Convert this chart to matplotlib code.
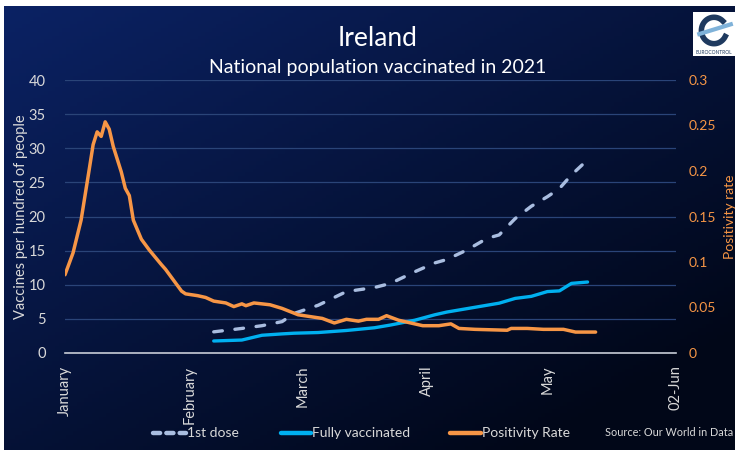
import numpy as np
import pandas as pd
import matplotlib
matplotlib.use("Agg")
import matplotlib.pyplot as plt
from matplotlib.lines import Line2D

plt.rcParams['font.family'] = ['Lato', 'DejaVu Sans']

# positivity rate (right axis)
pos_dates = ["2021-01-01", "2021-01-03", "2021-01-05", "2021-01-07", "2021-01-08", "2021-01-09",
             "2021-01-10", "2021-01-11", "2021-01-12", "2021-01-13", "2021-01-15", "2021-01-16",
             "2021-01-17", "2021-01-18", "2021-01-20", "2021-01-22", "2021-01-25", "2021-01-26",
             "2021-01-30", "2021-01-31", "2021-02-03", "2021-02-05", "2021-02-07", "2021-02-10",
             "2021-02-12", "2021-02-14", "2021-02-15", "2021-02-17", "2021-02-21", "2021-02-24",
             "2021-02-28", "2021-03-03", "2021-03-06", "2021-03-09", "2021-03-12", "2021-03-15",
             "2021-03-17", "2021-03-20", "2021-03-22", "2021-03-25", "2021-03-29", "2021-03-31",
             "2021-04-04", "2021-04-07", "2021-04-09", "2021-04-13", "2021-04-21", "2021-04-22",
             "2021-04-26", "2021-04-30", "2021-05-05", "2021-05-08", "2021-05-11", "2021-05-13"]
pos_rate = [0.086, 0.110, 0.146, 0.201, 0.229, 0.243,
            0.238, 0.254, 0.246, 0.227, 0.199, 0.181,
            0.173, 0.146, 0.125, 0.113, 0.097, 0.092,
            0.068, 0.065, 0.063, 0.061, 0.057, 0.055,
            0.051, 0.054, 0.052, 0.055, 0.053, 0.049,
            0.042, 0.040, 0.038, 0.033, 0.037, 0.035,
            0.037, 0.037, 0.041, 0.036, 0.032, 0.030,
            0.030, 0.032, 0.027, 0.026, 0.025, 0.027,
            0.027, 0.026, 0.026, 0.023, 0.023, 0.023]

# vaccinations per hundred (left axis)
vac_dates = ["2021-02-07", "2021-02-14", "2021-02-19", "2021-02-24", "2021-02-27", "2021-03-05",
             "2021-03-12", "2021-03-19", "2021-03-23", "2021-03-29", "2021-04-03", "2021-04-06",
             "2021-04-11", "2021-04-16", "2021-04-19", "2021-04-23", "2021-04-27", "2021-05-01",
             "2021-05-04", "2021-05-07", "2021-05-11"]
first_dose = [3.1, 3.6, 4.0, 4.6, 5.8, 7.0,
              9.0, 9.6, 10.2, 11.9, 13.2, 13.7,
              15.1, 16.8, 17.3, 19.7, 21.5, 22.9,
              24.1, 26.1, 28.3]
fully_vac = [1.76, 1.9, 2.6, 2.8, 2.9, 3.0,
             3.3, 3.7, 4.1, 4.8, 5.6, 6.0,
             6.5, 7.0, 7.3, 8.0, 8.3, 9.0,
             9.1, 10.2, 10.4]

month_ticks = ["2021-01-01", "2021-02-01", "2021-03-01", "2021-04-01", "2021-05-01", "2021-06-02"]
month_labels = ["January", "February", "March", "April", "May", "02-Jun"]

c_first = "#a9bde0"
c_full = "#00b0f0"
c_pos = "#f79646"
c_text = "#d9d9d9"

W, H = 735, 450
fig = plt.figure(figsize=(7.35, 4.5), dpi=100)
fig.patch.set_facecolor("white")

# background gradient
bg = fig.add_axes([4/W, 0, 1 - 4/W, 1 - 6/H])
xx, yy = np.meshgrid(np.linspace(0, 1, 200), np.linspace(0, 1, 120))
t = np.clip(0.55 * xx + 0.6 * yy, 0, 1)
top = np.array([0x0b, 0x22, 0x64]) / 255
bot = np.array([0x01, 0x07, 0x18]) / 255
img = top[None, None, :] * (1 - t[..., None]) + bot[None, None, :] * t[..., None]
bg.imshow(img, aspect="auto", extent=[0, 1, 0, 1])
bg.axis("off")

ax = fig.add_axes([65/W, 1 - 353/H, 611/W, 273/H])
ax.patch.set_alpha(0)
ax2 = ax.twinx()

pd_pos = pd.to_datetime(pos_dates)
pd_vac = pd.to_datetime(vac_dates)

ax.plot(pd_vac, first_dose, color=c_first, lw=2.4, dashes=(2.6, 3.8), dash_capstyle="round")
ax.plot(pd_vac, fully_vac, color=c_full, lw=2.4, solid_capstyle="round")
ax2.plot(pd_pos, pos_rate, color=c_pos, lw=2.5, solid_capstyle="round", solid_joinstyle="round")

ax.set_xlim(pd.Timestamp("2021-01-01"), pd.Timestamp("2021-06-02"))
ax.set_ylim(0, 40)
ax2.set_ylim(0, 0.3)
ax.set_yticks(range(0, 41, 5))
ax2.set_yticks([0, 0.05, 0.1, 0.15, 0.2, 0.25, 0.3])
ax2.set_yticklabels(["0", "0.05", "0.1", "0.15", "0.2", "0.25", "0.3"])
ax.set_xticks(pd.to_datetime(month_ticks))
ax.set_xticklabels(month_labels, rotation=90)

ax.grid(axis="y", color="#2a4478", lw=0.9)
ax.set_axisbelow(True)
for a in (ax, ax2):
    for s in a.spines.values():
        s.set_visible(False)
    a.tick_params(length=0)
ax.spines["bottom"].set_visible(True)
ax.spines["bottom"].set_color("#c8ccd6")
ax.spines["bottom"].set_linewidth(1.2)

ax.tick_params(axis="y", colors=c_text, labelsize=10.5, pad=14)
ax.tick_params(axis="x", colors=c_text, labelsize=10.5, pad=9)
ax2.tick_params(axis="y", colors=c_pos, labelsize=10, pad=9)

ax.set_ylabel("Vaccines per hundred of people", color=c_text, fontsize=10.5)
ax.yaxis.set_label_coords((28 - 65) / 611, 0.5)
ax2.set_ylabel("Positivity rate", color=c_pos, fontsize=10)
ax2.yaxis.set_label_coords((724 - 65) / 611, 0.5)

fig.text(378/W, 1 - 38/H, "Ireland", color="white", fontsize=19, ha="center", va="center")
fig.text(378/W, 1 - 68/H, "National population vaccinated in 2021", color="white",
         fontsize=14, ha="center", va="center")

# legend, drawn by hand
ly = 1 - 433/H
legend_items = [("1st dose", c_first, True, 153, 186),
                ("Fully vaccinated", c_full, False, 281, 311),
                ("Positivity Rate", c_pos, False, 450, 481)]
for label, col, dashed, x0, x1 in legend_items:
    ln = Line2D([x0/W, x1/W], [ly, ly], transform=fig.transFigure, color=col, lw=3.2,
                solid_capstyle="round", dash_capstyle="round")
    if dashed:
        ln.set_dashes((1.6, 1.4))
    fig.add_artist(ln)
    fig.text((x1 + 1)/W, ly, label, color=c_text, fontsize=10, ha="left", va="center")

fig.text(605/W, ly, "Source: Our World in Data", color=c_text, fontsize=7.8,
         ha="left", va="center")

# logo box
logo = fig.add_axes([693/W, 1 - 56/H, 42/W, 44/H])
logo.set_facecolor("white")
logo.set_xticks([])
logo.set_yticks([])
for s in logo.spines.values():
    s.set_visible(False)
logo.set_xlim(0, 1)
logo.set_ylim(0, 1)
th = np.linspace(0.25 * np.pi, 1.85 * np.pi, 60)
logo.plot(0.5 + 0.3 * np.cos(th), 0.58 + 0.3 * np.sin(th), color="#1f3a5f", lw=4)
logo.plot([0.15, 0.9], [0.5, 0.72], color="#7fb2d9", lw=3)
logo.text(0.5, 0.08, "EUROCONTROL", fontsize=3.5, ha="center", va="center", color="#1f3a5f")

fig.savefig("out.png", dpi=100, facecolor=fig.get_facecolor())
